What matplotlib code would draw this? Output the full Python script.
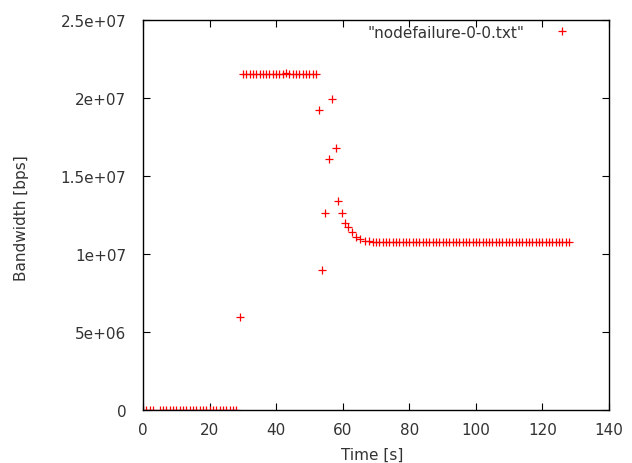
import matplotlib
matplotlib.use("Agg")
import matplotlib.pyplot as plt

t_zero = [0, 1, 2, 3, 5, 6, 7, 8, 9, 10, 11, 12, 13, 14, 15, 16, 17, 18, 19,
          20, 21, 22, 23, 24, 25, 26, 27, 28]
bw_zero = [0] * len(t_zero)

t_ramp = [29]
bw_ramp = [5.96e6]

t_top = [30, 31, 32, 33, 34, 35, 36, 37, 38, 39, 40, 41, 42, 43, 44, 45, 46,
         47, 48, 49, 50, 51, 52]
bw_top = [2.154e7, 2.154e7, 2.154e7, 2.154e7, 2.154e7, 2.154e7, 2.154e7,
          2.154e7, 2.154e7, 2.154e7, 2.154e7, 2.154e7, 2.154e7, 2.162e7,
          2.154e7, 2.154e7, 2.154e7, 2.154e7, 2.154e7, 2.154e7, 2.154e7,
          2.154e7, 2.154e7]

t_fail = [52.9, 53.8, 54.7, 55.9, 56.8, 58.0, 58.7, 59.8, 60.8, 61.7, 62.8,
          64.1, 65.3, 66.6, 67.8]
bw_fail = [1.923e7, 8.97e6, 1.263e7, 1.609e7, 1.994e7, 1.679e7, 1.338e7,
           1.261e7, 1.197e7, 1.175e7, 1.139e7, 1.111e7, 1.096e7, 1.085e7,
           1.081e7]

t_tail = [69, 70, 71, 72, 73, 74, 75, 76, 77, 78, 79, 80, 81, 82, 83, 84, 85,
          86, 87, 88, 89, 90, 91, 92, 93, 94, 95, 96, 97, 98, 99, 100, 101,
          102, 103, 104, 105, 106, 107, 108, 109, 110, 111, 112, 113, 114, 115,
          116, 117, 118, 119, 120, 121, 122, 123, 124, 125, 126, 127, 128]
bw_tail = [1.075e7] * len(t_tail)

t = t_zero + t_ramp + t_top + t_fail + t_tail
bw = bw_zero + bw_ramp + bw_top + bw_fail + bw_tail

x_ticks = [0, 20, 40, 60, 80, 100, 120, 140]
y_ticks = [0, 5e6, 1e7, 1.5e7, 2e7, 2.5e7]
y_labels = ["0", "5e+06", "1e+07", "1.5e+07", "2e+07", "2.5e+07"]

plt.rcParams["font.family"] = ["DejaVu Sans"]
plt.rcParams["font.size"] = 11

W, H = 632, 464
fig = plt.figure(figsize=(W / 100, H / 100), dpi=100)
ax = fig.add_axes([143 / W, 1 - 411 / H, 466 / W, 390 / H])

ax.plot(t, bw, linestyle="none", marker="+", color="#ff0000",
        markersize=5.8, markeredgewidth=0.9, label='"nodefailure-0-0.txt"')

ax.set_xlim(0, 140)
ax.set_ylim(0, 2.5e7)
ax.set_xticks(x_ticks)
ax.set_yticks(y_ticks)
ax.set_yticklabels(y_labels)
ax.tick_params(direction="in", top=True, right=True, length=5, width=0.8,
               colors="#000000", labelcolor="#333333")
ax.tick_params(axis="y", pad=12)
ax.tick_params(axis="x", pad=9)
for s in ax.spines.values():
    s.set_linewidth(1.0)

fig.text(372 / W, 1 - 455 / H, "Time [s]", color="#333333",
         ha="center", va="center")
fig.text(22 / W, 1 - 218 / H, "Bandwidth [bps]", color="#333333",
         ha="center", va="center", rotation=90)

# key sits inside the top right corner, text before the marker
ax.legend(loc="center right", bbox_to_anchor=(0.9657, 0.969),
          frameon=False, markerfirst=False, handlelength=4.0,
          handletextpad=0.5, borderpad=0, borderaxespad=0,
          labelcolor="#333333")

fig.savefig("out.png", dpi=100)
